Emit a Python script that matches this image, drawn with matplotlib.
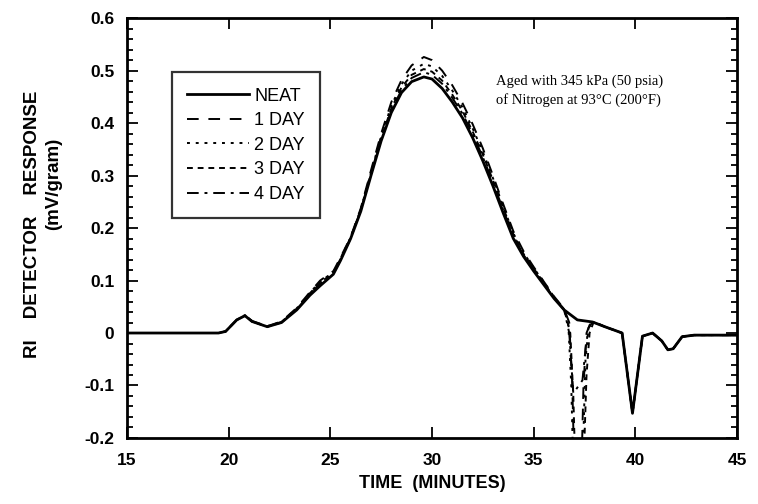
import numpy as np
import matplotlib.pyplot as plt
from matplotlib.ticker import MultipleLocator

plt.rcParams['font.family'] = ['Liberation Sans', 'DejaVu Sans']

# retention time grid shared by all runs up to the end of the main peak (minutes)
t_body = [15.0, 19.5, 19.85, 20.4, 20.8, 21.15, 21.9, 22.6, 23.35, 24.0, 24.5,
          25.15, 25.5, 26.0, 26.5, 27.0, 27.5, 28.0, 28.5, 29.0, 29.6, 30.0,
          30.5, 31.0, 31.5, 32.0, 32.5, 33.0, 33.5, 34.0, 34.5, 35.0, 35.5,
          36.0, 36.5]

neat_body = [0.0, 0.0, 0.003, 0.025, 0.033, 0.022, 0.012, 0.020, 0.044, 0.072, 0.090,
             0.112, 0.138, 0.180, 0.232, 0.300, 0.366, 0.420, 0.458, 0.479, 0.488, 0.484,
             0.466, 0.440, 0.410, 0.372, 0.328, 0.280, 0.229, 0.180, 0.146, 0.118, 0.092,
             0.066, 0.044]
day1_body = [0.0, 0.0, 0.003, 0.025, 0.034, 0.023, 0.013, 0.022, 0.048, 0.078, 0.100,
             0.118, 0.144, 0.183, 0.238, 0.310, 0.380, 0.440, 0.482, 0.510, 0.526, 0.520,
             0.500, 0.472, 0.438, 0.398, 0.352, 0.300, 0.246, 0.194, 0.156, 0.126, 0.098,
             0.070, 0.046]
day2_body = [0.0, 0.0, 0.003, 0.025, 0.034, 0.023, 0.013, 0.021, 0.047, 0.077, 0.098,
             0.116, 0.142, 0.182, 0.236, 0.306, 0.375, 0.433, 0.474, 0.500, 0.513, 0.508,
             0.490, 0.462, 0.430, 0.390, 0.345, 0.295, 0.242, 0.190, 0.153, 0.124, 0.097,
             0.069, 0.045]
day3_body = [0.0, 0.0, 0.003, 0.025, 0.033, 0.022, 0.012, 0.021, 0.046, 0.076, 0.096,
             0.115, 0.141, 0.181, 0.235, 0.304, 0.371, 0.428, 0.468, 0.492, 0.503, 0.498,
             0.481, 0.454, 0.423, 0.384, 0.340, 0.291, 0.239, 0.188, 0.151, 0.123, 0.096,
             0.068, 0.045]
day4_body = [0.0, 0.0, 0.003, 0.025, 0.033, 0.022, 0.012, 0.020, 0.045, 0.075, 0.094,
             0.114, 0.140, 0.181, 0.234, 0.302, 0.369, 0.424, 0.463, 0.486, 0.497, 0.492,
             0.475, 0.448, 0.418, 0.379, 0.335, 0.287, 0.235, 0.185, 0.149, 0.121, 0.094,
             0.067, 0.044]

# late-eluting region, each run has its own negative peak near 37 min
neat_tail_t = [37.15, 37.9, 38.5, 39.0, 39.35, 39.86, 40.35, 40.85, 41.3, 41.6, 41.86,
               42.3, 42.9, 45.0]
neat_tail = [0.025, 0.021, 0.012, 0.005, 0.0, -0.153, -0.006, 0.0, -0.015, -0.032, -0.030,
             -0.007, -0.004, -0.004]

day1_tail_t = [36.75, 36.9, 37.0, 37.35, 37.45, 37.6, 37.8, 38.0]
day1_tail = [0.020, -0.100, -0.260, -0.260, -0.100, 0.000, 0.020, 0.021]
day2_tail_t = [36.7, 36.85, 36.95, 37.4, 37.55, 37.7, 37.9]
day2_tail = [0.020, -0.100, -0.260, -0.260, -0.050, 0.010, 0.021]
day3_tail_t = [36.8, 36.95, 37.05, 37.45, 37.6, 37.75, 37.95]
day3_tail = [0.000, -0.120, -0.260, -0.260, -0.080, 0.000, 0.021]
day4_tail_t = [36.75, 36.95, 37.4, 37.55, 37.7, 37.9]
day4_tail = [0.000, -0.115, -0.090, -0.030, 0.010, 0.021]

# all aged runs overlay the neat run after 38 min
common_t = neat_tail_t[2:]
common_y = neat_tail[2:]

series = [
    ('NEAT', t_body + neat_tail_t, neat_body + neat_tail, '-', 2.0),
    ('1 DAY', t_body + day1_tail_t + common_t, day1_body + day1_tail + common_y, (0, (6, 5)), 1.4),
    ('2 DAY', t_body + day2_tail_t + common_t, day2_body + day2_tail + common_y, (0, (1.5, 3)), 1.4),
    ('3 DAY', t_body + day3_tail_t + common_t, day3_body + day3_tail + common_y, (0, (3, 2.5)), 1.4),
    ('4 DAY', t_body + day4_tail_t + common_t, day4_body + day4_tail + common_y, (0, (6, 3, 1.5, 3)), 1.4),
]

fig = plt.figure(figsize=(7.58, 5.04), dpi=100)
ax = fig.add_axes([0.1675, 0.131, 0.8048, 0.833])

for label, t, y, ls, lw in series:
    ax.plot(t, y, color='black', linestyle=ls, linewidth=lw, label=label)

ax.set_xlim(15, 45)
ax.set_ylim(-0.2, 0.6)
ax.xaxis.set_major_locator(MultipleLocator(5))
ax.yaxis.set_minor_locator(MultipleLocator(0.02))
ax.set_yticks(np.arange(-0.2, 0.61, 0.1))
ax.set_yticklabels(['-0.2', '-0.1', '0', '0.1', '0.2', '0.3', '0.4', '0.5', '0.6'])

ax.tick_params(which='both', direction='in', top=True, right=True, width=1.3)
ax.tick_params(which='major', length=8, labelsize=12.5)
ax.tick_params(axis='x', which='major', pad=11)
ax.tick_params(axis='y', which='major', pad=9)
ax.tick_params(axis='x', which='minor', bottom=False, top=False)
ax.tick_params(which='minor', length=4)
for lab in ax.get_xticklabels() + ax.get_yticklabels():
    lab.set_fontweight('bold')
for sp in ax.spines.values():
    sp.set_linewidth(2.0)

ax.set_xlabel('TIME  (MINUTES)', fontsize=13, fontweight='bold', labelpad=5)
fig.text(33 / 758, 1 - 224 / 504, 'RI    DETECTOR    RESPONSE', rotation=90,
         ha='center', va='center', fontsize=13.5, fontweight='bold')
fig.text(54 / 758, 1 - 184 / 504, '(mV/gram)', rotation=90,
         ha='center', va='center', fontsize=13.5, fontweight='bold')

ax.text(33.15, 0.462, 'Aged with 345 kPa (50 psia)\nof Nitrogen at 93\u00b0C (200\u00b0F)',
        family=['Liberation Serif', 'DejaVu Serif'], fontsize=10.5,
        ha='left', va='center', linespacing=1.45)

leg = ax.legend(loc='upper left', bbox_to_anchor=(0.074, 0.871), fontsize=13,
                frameon=True, fancybox=False, edgecolor='black', handlelength=3.4,
                handletextpad=0.3, labelspacing=0.42, borderpad=0.85,
                borderaxespad=0.0)
leg.get_frame().set_linewidth(1.6)

fig.savefig('out.png', dpi=100)
